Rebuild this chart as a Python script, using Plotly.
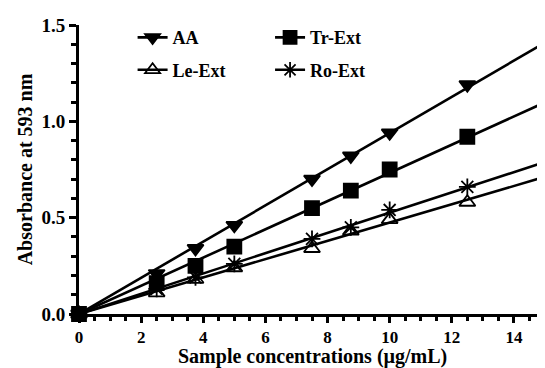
import numpy as np
import plotly.graph_objects as go

conc = [0, 2.5, 3.75, 5, 7.5, 8.75, 10, 12.5]
aa = [0, 0.21, 0.34, 0.46, 0.70, 0.82, 0.94, 1.19]
tr_ext = [0, 0.16, 0.25, 0.35, 0.55, 0.64, 0.75, 0.92]
le_ext = [0, 0.11, 0.18, 0.24, 0.34, 0.43, 0.49, 0.58]
ro_ext = [0, 0.13, 0.19, 0.26, 0.39, 0.45, 0.54, 0.66]
x_line = [0, 15]

FONT = "Liberation Serif"
series = [
    ("AA", aa, "triangle-down", "legend"),
    ("Le-Ext", le_ext, "triangle-up-open", "legend"),
    ("Tr-Ext", tr_ext, "square", "legend2"),
    ("Ro-Ext", ro_ext, "asterisk-open", "legend2"),
]

fig = go.Figure()
for name, ys, sym, lg in series:
    x = np.array(conc, dtype=float)
    y = np.array(ys, dtype=float)
    slope = float((x * y).sum() / (x * x).sum())
    mk = dict(symbol=sym, size=14, color="black", line=dict(color="black", width=1.8))
    fig.add_trace(go.Scatter(
        x=x_line, y=[slope * v for v in x_line], mode="lines",
        line=dict(color="black", width=2.6), showlegend=False,
        hoverinfo="skip", cliponaxis=False))
    fig.add_trace(go.Scatter(
        x=conc, y=ys, mode="markers", name=name, showlegend=False,
        marker=mk, cliponaxis=False))
    fig.add_trace(go.Scatter(
        x=[None], y=[None], mode="lines+markers", name=name, legend=lg,
        legendgroup=name, line=dict(color="black", width=2.6),
        marker=dict(mk, size=13)))

axis_common = dict(
    showline=True, linecolor="black", linewidth=3, ticks="outside",
    tickwidth=3, tickcolor="black", showgrid=False, zeroline=False,
    automargin=False,
)
leg_common = dict(yanchor="top", xanchor="left", bgcolor="rgba(0,0,0,0)",
                  font=dict(family=FONT, size=18, weight="bold"),
                  tracegroupgap=6, itemwidth=30)
# the page body has an 8px margin, so the figure is sized 8px smaller
fig.update_layout(
    width=537, height=360,
    margin=dict(l=71, r=0, t=17, b=54),
    paper_bgcolor="white", plot_bgcolor="white",
    font=dict(family=FONT, color="black"),
    xaxis=dict(range=[0, 15], tickvals=[0, 2, 4, 6, 8, 10, 12, 14], ticklen=6,
               tickfont=dict(family=FONT, size=17, color="black", weight="bold"),
               minor=dict(dtick=0.5, ticks="outside", ticklen=4, tickwidth=2.5, tickcolor="black"),
               **axis_common),
    yaxis=dict(range=[0, 1.5], tickvals=[0, 0.5, 1.0, 1.5], tickformat=".1f", ticklen=7,
               tickfont=dict(family=FONT, size=19, color="black", weight="bold"),
               minor=dict(dtick=0.1, ticks="outside", ticklen=5, tickwidth=2.5, tickcolor="black"),
               title=dict(text="Absorbance at 593 nm", standoff=4,
                          font=dict(family=FONT, size=20, weight="bold")),
               **axis_common),
    legend=dict(x=0.115, y=1.02, **leg_common),
    legend2=dict(x=0.41, y=1.02, **leg_common),
    showlegend=True,
    annotations=[dict(text="<b>Sample concentrations (µg/mL)</b>", xref="paper", yref="paper",
                      x=0.5, y=0, xanchor="center", yanchor="middle", yshift=-42,
                      showarrow=False, font=dict(family=FONT, size=20, color="black"))],
)
fig.write_html("out.html")
